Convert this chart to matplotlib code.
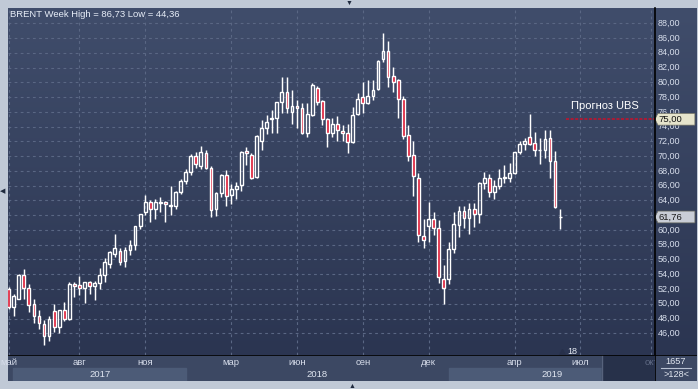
import numpy as np
import pandas as pd
import matplotlib
matplotlib.use('Agg')
import matplotlib.pyplot as plt
from matplotlib.colors import LinearSegmentedColormap
from matplotlib.patches import Rectangle, Polygon

plt.rcParams['font.family'] = ['Liberation Sans', 'DejaVu Sans']

# weekly candles, first week starts 2017-05-01
first_week = '2017-05-01'
opens = [52.0, 49.5, 50.7, 53.9, 52.2, 50.0, 48.4, 47.3, 45.7, 49.0,
         46.8, 49.1, 47.9, 52.7, 52.5, 52.1, 52.9, 52.4, 52.8, 53.9,
         55.4, 56.8, 57.1, 55.8, 57.3, 58.0, 60.6, 62.5, 63.8, 62.8,
         63.7, 63.8, 63.3, 63.2, 65.1, 66.7, 67.8, 70.0, 68.7, 70.4,
         68.4, 62.8, 65.0, 67.4, 64.7, 65.6, 66.1, 70.7, 70.2, 67.2,
         72.0, 73.8, 75.0, 75.1, 77.3, 78.7, 76.0, 76.8, 76.5, 73.2,
         75.6, 79.2, 77.5, 75.0, 73.1, 74.4, 73.4, 73.1, 71.9, 75.7,
         78.0, 77.2, 78.2, 79.05, 83.2, 84.2, 80.8, 80.3, 77.8, 72.8,
         70.1, 67.1, 59.2, 60.5, 61.5, 60.3, 53.4, 53.3, 57.4, 60.7,
         62.6, 61.6, 62.9, 62.2, 66.4, 67.0, 65.1, 65.9, 67.1, 67.1,
         67.7, 70.6, 71.7, 72.6, 71.8, 70.8, 70.9, 72.4, 69.3, 61.8]
highs = [52.3, 51.3, 54.0, 54.7, 52.7, 50.7, 49.2, 47.8, 48.3, 50.0,
         49.2, 50.3, 52.9, 52.9, 53.8, 53.0, 53.1, 53.1, 54.9, 56.2,
         57.1, 59.5, 57.5, 57.7, 58.6, 60.6, 62.2, 64.7, 64.1, 64.2,
         64.5, 63.9, 66.0, 65.3, 66.9, 68.3, 70.3, 70.5, 71.4, 70.9,
         68.6, 65.1, 67.6, 68.1, 66.2, 66.5, 70.7, 71.2, 70.4, 72.8,
         74.9, 75.6, 76.2, 77.4, 80.7, 80.7, 79.0, 77.6, 77.2, 77.2,
         79.9, 79.5, 77.6, 75.1, 75.1, 75.4, 74.2, 74.4, 76.6, 78.5,
         80.0, 80.3, 80.3, 83.0, 86.73, 85.6, 82.1, 80.5, 78.2, 74.2,
         72.1, 67.7, 61.5, 63.8, 62.5, 61.4, 55.3, 58.4, 62.5, 63.2,
         63.2, 63.7, 63.7, 66.5, 67.9, 67.6, 66.8, 68.3, 68.8, 69.1,
         70.6, 72.1, 72.5, 75.7, 73.3, 72.4, 73.5, 73.5, 70.7, 62.9]
lows = [49.3, 48.4, 50.6, 50.7, 48.9, 47.4, 46.6, 44.36, 45.0, 46.2,
        46.1, 47.7, 47.8, 50.9, 51.2, 50.1, 51.3, 50.5, 52.0, 53.0,
        54.9, 56.4, 55.2, 55.0, 56.6, 57.3, 60.1, 62.0, 61.1, 61.5,
        62.5, 61.1, 62.0, 62.9, 64.9, 66.2, 67.5, 68.4, 68.2, 68.2,
        61.8, 61.9, 64.5, 63.2, 63.5, 64.2, 65.3, 68.8, 66.9, 67.1,
        70.9, 73.0, 73.2, 73.2, 75.9, 75.9, 74.4, 73.8, 73.0, 72.6,
        75.5, 76.9, 74.2, 71.3, 72.6, 72.0, 72.0, 70.4, 71.8, 75.6,
        75.8, 77.0, 77.6, 79.0, 82.7, 79.3, 78.7, 75.2, 72.3, 69.3,
        64.6, 58.4, 57.5, 58.4, 59.3, 52.8, 50.0, 52.7, 56.9, 59.0,
        60.2, 59.5, 60.4, 61.0, 65.6, 64.4, 64.2, 65.5, 66.3, 66.5,
        67.6, 70.3, 70.8, 71.5, 70.0, 68.9, 69.8, 67.1, 63.0, 60.1]
closes = [49.5, 51.0, 53.9, 52.2, 49.9, 48.4, 47.4, 45.6, 47.9, 46.9,
          49.1, 48.0, 52.7, 52.4, 52.1, 52.9, 52.4, 52.8, 53.9, 55.6,
          57.0, 57.6, 55.7, 57.3, 57.9, 60.5, 62.1, 63.8, 62.8, 63.8,
          63.8, 63.5, 63.4, 65.1, 66.7, 67.8, 70.0, 68.9, 70.5, 68.4,
          62.7, 65.0, 67.4, 64.6, 65.6, 66.0, 70.5, 70.4, 67.0, 72.7,
          73.8, 74.6, 75.1, 77.3, 78.7, 76.5, 76.8, 76.5, 73.1, 75.7,
          79.6, 77.3, 75.0, 73.1, 74.4, 73.5, 73.1, 71.9, 75.6, 77.8,
          77.2, 78.2, 79.0, 82.85, 84.2, 80.7, 80.1, 77.8, 72.7, 70.0,
          67.3, 59.3, 58.7, 61.5, 60.3, 53.6, 52.2, 57.4, 60.8, 62.6,
          61.6, 62.9, 62.2, 66.4, 67.0, 65.1, 66.0, 67.1, 67.2, 67.7,
          70.5, 71.6, 72.1, 71.6, 70.9, 70.9, 72.3, 69.3, 63.1, 61.76]

month_dates = ['2017-05-01', '2017-08-07', '2017-11-06', '2018-03-05', '2018-06-04',
               '2018-09-03', '2018-12-03', '2019-04-01', '2019-07-01', '2019-10-07']
month_labels = ['май', 'авг', 'ноя', 'мар', 'июн', 'сен', 'дек', 'апр', 'июл', 'окт']
year_labels = ['2017', '2018', '2019']
year_starts = ['2017-05-08', '2018-01-01', '2018-12-31']
ubs_target = 75.0
price_ticks = list(range(46, 90, 2))

def week_idx(d):
    return (pd.Timestamp(d) - pd.Timestamp(first_week)).days / 7

o, h, l, c = map(np.array, (opens, highs, lows, closes))
x = np.arange(len(o))

W, H = 698, 389
fig = plt.figure(figsize=(W / 100, H / 100), dpi=100, facecolor='#c0c9d6')

def box(x0, y0, x1, y1):
    return [x0 / W, 1 - y1 / H, (x1 - x0) / W, (y1 - y0) / H]

XLIM = (-0.12, 127.75)
YLIM = (43.06, 90.07)
top_col, bot_col = '#404d6b', '#2b3551'
bg_cmap = LinearSegmentedColormap.from_list('bg', [bot_col, top_col])
grad = np.linspace(0, 1, 256).reshape(-1, 1)

ax = fig.add_axes(box(8, 8, 655, 355))
axr = fig.add_axes(box(655, 8, 697, 355))
axb = fig.add_axes(box(8, 355, 655, 381))
axc = fig.add_axes(box(655, 355, 697, 381))

for a in (ax, axr):
    a.imshow(grad, extent=[0, 1, 0, 1], transform=a.transAxes, aspect='auto',
             cmap=bg_cmap, origin='lower', zorder=0)
    a.set_xticks([]); a.set_yticks([])
    for s in a.spines.values():
        s.set_visible(False)

ax.set_xlim(*XLIM); ax.set_ylim(*YLIM)
axr.set_xlim(0, 1); axr.set_ylim(*YLIM)

# grid
grid_col = '#5a6784'
ax.hlines(price_ticks, XLIM[0], XLIM[1], colors=grid_col, lw=0.8,
          linestyles=(0, (2.5, 3)), zorder=1)
mpos = [week_idx(d) for d in month_dates]
ax.vlines(mpos, YLIM[0], YLIM[1], colors=grid_col, lw=0.8,
          linestyles=(0, (2.5, 3)), zorder=1)

# candles
red = '#dc1430'
up = c >= o
blo = np.minimum(o, c)
bhi = np.maximum(o, c)
ax.vlines(x, bhi, h, color='white', lw=1.05, zorder=2)
ax.vlines(x, l, blo, color='white', lw=1.05, zorder=2)
ax.bar(x, np.maximum(bhi - blo, 0.04), bottom=blo, width=0.55,
       color=['none' if u else red for u in up], edgecolor='white',
       linewidth=1.0, zorder=3)

# UBS forecast line
ax.hlines(ubs_target, len(o) + 0.1, XLIM[1], colors='#c8102a', lw=1.1,
          linestyles=(0, (2, 1)), zorder=2)
ax.text(len(o) + 1.2, 76.75, 'Прогноз UBS', color='white', fontsize=8,
        va='center', ha='left', zorder=4)

ax.text(0.003, 0.982, 'BRENT Week High = %s Low = %s' % (
    ('%.2f' % max(highs)).replace('.', ','), ('%.2f' % min(lows)).replace('.', ',')),
    transform=ax.transAxes, color='#e8eef8', fontsize=6.8, va='center', ha='left', zorder=5)

ax.text(len(o) + 1.4, 43.6, '18', color='#e6ebf4', fontsize=6.5, va='center', ha='center', zorder=5)
ax.plot([len(o) - 0.6], [43.4], marker='^', ms=4, color='#27304a', zorder=5)

# right price axis
axr.plot([0, 0], [0, 1], transform=axr.transAxes, color='black', lw=1.2, clip_on=False, zorder=5)
for p in price_ticks:
    axr.text(0.07, p, ('%.2f' % p).replace('.', ','), color='#d7deec',
             fontsize=6.5, va='center', ha='left', zorder=2)

def price_flag(p, fc, tc):
    hh = 0.8
    pts = [(0.0, p), (0.07, p + hh), (0.95, p + hh), (0.95, p - hh), (0.07, p - hh)]
    axr.add_patch(Polygon(pts, closed=True, facecolor=fc, edgecolor='#6c6c60',
                          lw=0.5, zorder=3))
    axr.text(0.09, p, ('%.2f' % p).replace('.', ','), color=tc, fontsize=6.8,
             va='center', ha='left', zorder=4)

price_flag(ubs_target, '#e6e4cc', '#111111')
price_flag(closes[-1], '#c9cdd6', '#1a1a1a')

# bottom time strip
axb.set_xlim(*XLIM); axb.set_ylim(0, 1)
axb.set_facecolor('#3c4863')
axb.set_xticks([]); axb.set_yticks([])
for s in axb.spines.values():
    s.set_visible(False)
axb.axhline(1, color='black', lw=1.2, zorder=5)
band_col = '#4c5b77'
yb = [week_idx(d) for d in year_starts] + [XLIM[1]]
axb.add_patch(Rectangle((yb[0] - 0.1, 0), yb[1] - yb[0] + 0.1, 0.5, color=band_col, zorder=1))
axb.add_patch(Rectangle((yb[2], 0), yb[3] - yb[2], 0.5, color=band_col, zorder=1))
future_x = 117.3
axb.add_patch(Rectangle((future_x, 0), XLIM[1] - future_x, 1, color='#27314a', zorder=2))
axb.axvline(future_x, color='#56627c', lw=1, zorder=3)
for lab, mp in zip(month_labels, mpos):
    col = '#5f6a84' if mp > future_x else '#d6dcea'
    axb.text(mp, 0.70, lab, color=col, fontsize=6.8, ha='center', va='center', zorder=4)
for i, lab in enumerate(year_labels):
    axb.text((yb[i] + yb[i + 1]) / 2, 0.25, lab, color='#dfe5f0', fontsize=6.8,
             ha='center', va='center', zorder=4)

# bottom-right corner
axc.set_facecolor('#3c4863')
axc.set_xticks([]); axc.set_yticks([])
for s in axc.spines.values():
    s.set_visible(False)
axc.set_xlim(0, 1); axc.set_ylim(0, 1)
axc.axvline(0, color='black', lw=1.2)
axc.axhline(1, color='black', lw=1.2)
axc.text(0.5, 0.76, '1657', color='#e2e7f0', fontsize=6.6, ha='center', va='center')
axc.plot([0.15, 0.85], [0.5, 0.5], color='#b8c1d2', lw=0.8)
axc.text(0.5, 0.26, '>128<', color='#e2e7f0', fontsize=6.6, ha='center', va='center')

# frame arrows
fig.text(349 / W, 1 - 3 / H, '▼', color='#1f2a3e', fontsize=5, ha='center', va='center')
fig.text(352 / W, 1 - 386 / H, '▲', color='#1f2a3e', fontsize=5, ha='center', va='center')
fig.text(3 / W, 1 - 192 / H, '◀', color='#1f2a3e', fontsize=5, ha='center', va='center')

fig.savefig('out.png', dpi=100, facecolor=fig.get_facecolor())
